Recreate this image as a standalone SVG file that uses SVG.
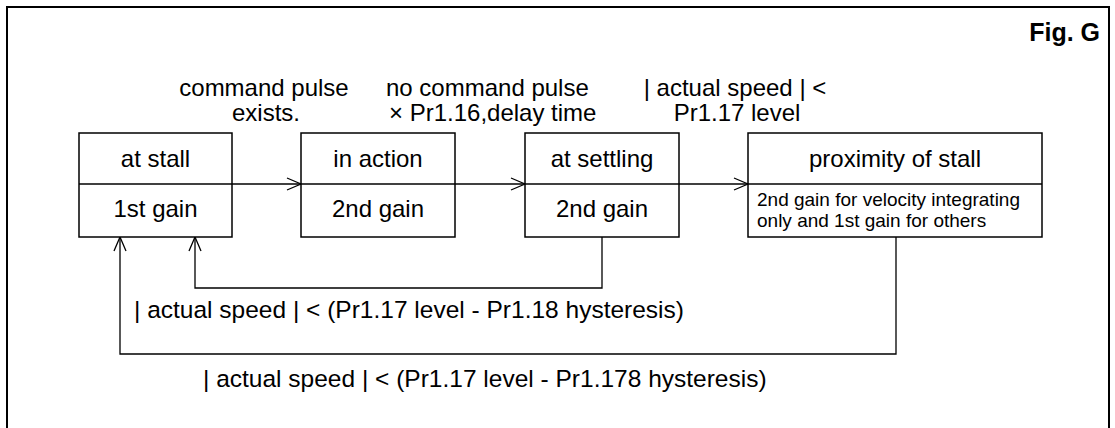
<svg xmlns="http://www.w3.org/2000/svg" width="1115" height="428" viewBox="0 0 1115 428">
  <style>
    text { font-family: "Liberation Sans", Arial, sans-serif; fill: #000; }
    .lbl { font-size: 24px; }
    .mid { text-anchor: middle; }
    .box { font-size: 24px; text-anchor: middle; }
    .ret { font-size: 24.5px; text-anchor: start; }
    .small { font-size: 19px; }
    .fig { font-size: 25px; font-weight: bold; text-anchor: end; }
    .frame { fill: none; stroke: #000; stroke-width: 2; }
    .node { fill: #fff; stroke: #000; stroke-width: 1.5; }
    .div { stroke: #000; stroke-width: 1.5; }
    .wire { fill: none; stroke: #000; stroke-width: 1.3; }
  </style>
  <defs>
    <marker id="arr" viewBox="0 0 16 14" refX="15" refY="7" markerWidth="16" markerHeight="14" markerUnits="userSpaceOnUse" orient="auto">
      <path d="M1,1 L15,7 L1,13" fill="none" stroke="#000" stroke-width="1.3"/>
    </marker>
  </defs>
  <rect width="1115" height="428" fill="#fff"/>
  <rect class="frame" x="7" y="7" width="1102" height="440"/>
  <text class="fig" x="1100" y="41">Fig. G</text>

  <g id="label-command-pulse">
    <text class="lbl mid" x="264" y="96">command pulse</text>
    <text class="lbl mid" x="266" y="121">exists.</text>
  </g>
  <g id="label-no-command">
    <text class="lbl" x="386" y="96">no command pulse</text>
    <text class="lbl" x="389" y="121">× Pr1.16,delay time</text>
  </g>
  <g id="label-actual-speed">
    <text class="lbl mid" x="735" y="96">| actual speed | &lt;</text>
    <text class="lbl mid" x="737" y="121">Pr1.17 level</text>
  </g>

  <g id="connectors">
    <line class="wire" x1="232" y1="184" x2="301" y2="184" marker-end="url(#arr)"/>
    <line class="wire" x1="455" y1="184" x2="525" y2="184" marker-end="url(#arr)"/>
    <line class="wire" x1="679" y1="184" x2="748" y2="184" marker-end="url(#arr)"/>
    <polyline class="wire" points="602,237 602,288 195,288 195,237" marker-end="url(#arr)"/>
    <polyline class="wire" points="896,237 896,354 120,354 120,237" marker-end="url(#arr)"/>
  </g>

  <g id="node-at-stall">
    <rect class="node" x="79" y="133" width="153" height="104"/>
    <line class="div" x1="79" y1="184" x2="232" y2="184"/>
    <text class="box" x="155.5" y="167">at stall</text>
    <text class="box" x="155.5" y="217">1st gain</text>
  </g>
  <g id="node-in-action">
    <rect class="node" x="301" y="133" width="154" height="104"/>
    <line class="div" x1="301" y1="184" x2="455" y2="184"/>
    <text class="box" x="378" y="167">in action</text>
    <text class="box" x="378" y="217">2nd gain</text>
  </g>
  <g id="node-at-settling">
    <rect class="node" x="525" y="133" width="154" height="104"/>
    <line class="div" x1="525" y1="184" x2="679" y2="184"/>
    <text class="box" x="602" y="167">at settling</text>
    <text class="box" x="602" y="217">2nd gain</text>
  </g>
  <g id="node-proximity">
    <rect class="node" x="748" y="133" width="294" height="104"/>
    <line class="div" x1="748" y1="184" x2="1042" y2="184"/>
    <text class="box" x="895" y="167">proximity of stall</text>
    <text class="small" x="757" y="206">2nd gain for velocity integrating</text>
    <text class="small" x="757" y="227">only and 1st gain for others</text>
  </g>

  <g id="label-return1">
    <text class="ret" x="134" y="318">| actual speed | &lt; (Pr1.17 level - Pr1.18 hysteresis)</text>
  </g>
  <g id="label-return2">
    <text class="ret" x="203" y="387">| actual speed | &lt; (Pr1.17 level - Pr1.178 hysteresis)</text>
  </g>
</svg>
